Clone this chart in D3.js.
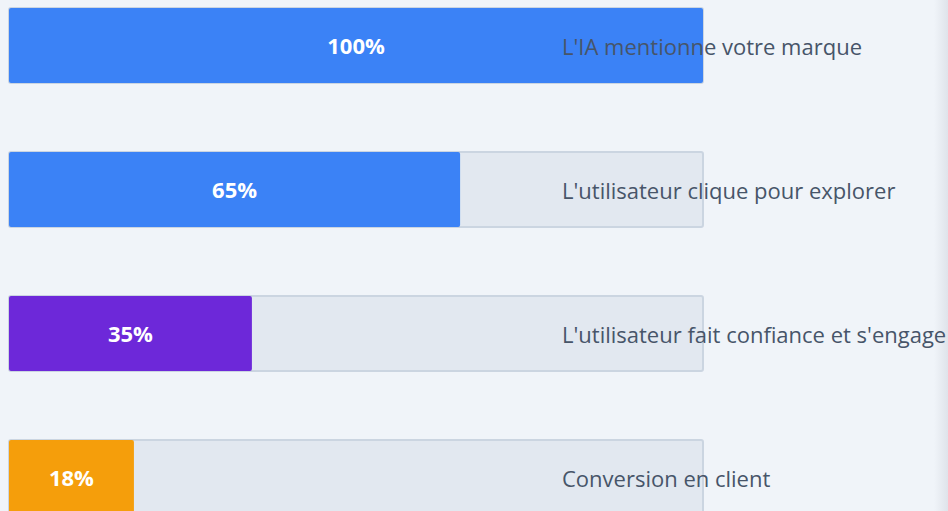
<!DOCTYPE html>
<html lang="fr">
  <head>
    <meta charset="utf-8" />
    <title>Entonnoir IA</title>
    <script src="https://d3js.org/d3.v7.min.js"></script>
    <style>
      body { margin: 0; background: #f0f4f9; overflow: hidden; }
      .pct { font-family: "Open Sans", sans-serif; font-weight: 700; font-size: 22px; fill: #fff; }
      .lbl { font-family: "Open Sans", sans-serif; font-size: 22px; fill: #475569; }
    </style>
  </head>
  <body>
    <script>
      const steps = ["L'IA mentionne votre marque", "L'utilisateur clique pour explorer",
        "L'utilisateur fait confiance et s'engage", "Conversion en client"];
      const values = [100, 65, 35, 18];
      const colors = ["#3b82f6", "#3b82f6", "#6d28d9", "#f59e0b"];

      const w = 948, h = 511;
      const svg = d3.select("body").append("svg").attr("width", w).attr("height", h);

      // faint shadow on the right edge
      const defs = svg.append("defs");
      const grad = defs.append("linearGradient").attr("id", "sh").attr("x1", 0).attr("x2", 1);
      grad.append("stop").attr("offset", 0).attr("stop-color", "#f0f4f9");
      grad.append("stop").attr("offset", 1).attr("stop-color", "#dfe3ea");
      svg.append("rect").attr("x", 934).attr("y", 0).attr("width", 14).attr("height", h).attr("fill", "url(#sh)");

      const x = d3.scaleLinear().domain([0, 100]).range([9, 703]);
      const y = d3.scaleBand().domain(steps).range([8, 515]).paddingInner(69 / 144).paddingOuter(0);

      const row = svg.selectAll("g.row").data(steps).join("g").attr("class", "row")
        .attr("transform", d => `translate(0,${y(d)})`);

      row.append("rect")
        .attr("x", x(0)).attr("y", 0)
        .attr("width", x(100) - x(0)).attr("height", y.bandwidth())
        .attr("rx", 2)
        .attr("fill", "#e2e8f0").attr("stroke", "#cbd5e1").attr("stroke-width", 2);

      row.append("rect")
        .attr("x", x(0)).attr("y", 0)
        .attr("width", (d, i) => x(values[i]) - x(0)).attr("height", y.bandwidth())
        .attr("rx", 2)
        .attr("fill", (d, i) => colors[i]);

      row.append("text").attr("class", "pct")
        .attr("x", (d, i) => (x(0) + x(values[i])) / 2)
        .attr("y", y.bandwidth() / 2 - 1)
        .attr("text-anchor", "middle").attr("dominant-baseline", "central")
        .text((d, i) => values[i] + "%");

      row.append("text").attr("class", "lbl")
        .attr("x", 562)
        .attr("y", y.bandwidth() / 2)
        .attr("dominant-baseline", "central")
        .text(d => d);
    </script>
  </body>
</html>
